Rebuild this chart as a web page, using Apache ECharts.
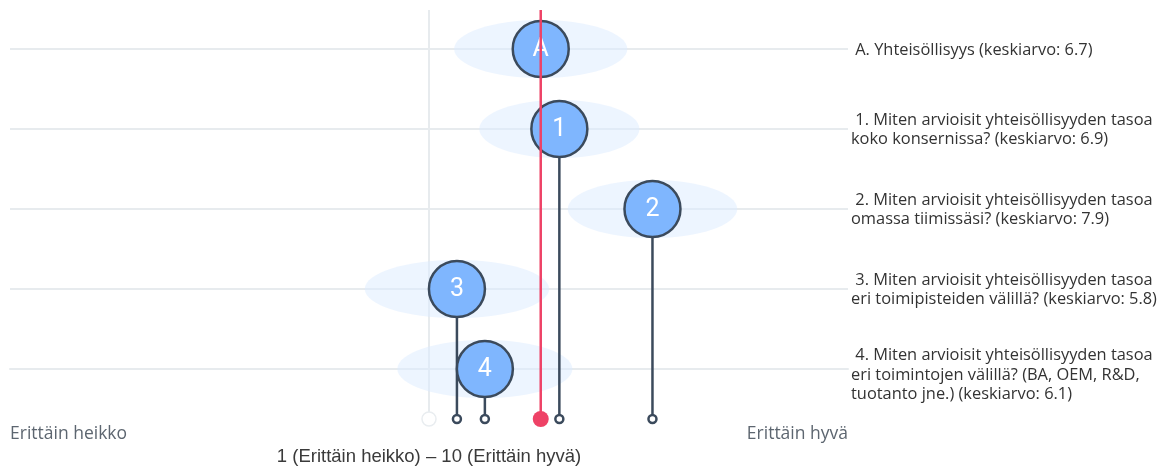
<!DOCTYPE html>
<html>
<head>
<meta charset="utf-8">
<script src="https://cdn.jsdelivr.net/npm/echarts@6/dist/echarts.min.js"></script>
<style>
  html, body { margin: 0; padding: 0; background: #ffffff; }
  #chart { width: 1170px; height: 467px; }
</style>
</head>
<body>
<div id="chart"></div>
<script>
// Survey items: marker, question text, mean score and spread of answers
const markers = ['A', '1', '2', '3', '4'];
const questions = [
  ' A. Yhteisöllisyys (keskiarvo: 6.7)',
  ' 1. Miten arvioisit yhteisöllisyyden tasoa\nkoko konsernissa? (keskiarvo: 6.9)',
  ' 2. Miten arvioisit yhteisöllisyyden tasoa\nomassa tiimissäsi? (keskiarvo: 7.9)',
  ' 3. Miten arvioisit yhteisöllisyyden tasoa\neri toimipisteiden välillä? (keskiarvo: 5.8)',
  ' 4. Miten arvioisit yhteisöllisyyden tasoa\neri toimintojen välillä? (BA, OEM, R&D,\ntuotanto jne.) (keskiarvo: 6.1)'
];
const means = [6.7, 6.9, 7.9, 5.8, 6.1];
const spreads = [0.93, 0.86, 0.91, 0.99, 0.94];

// Answer scale
const scaleMin = 1;
const scaleMax = 10;
const scaleMid = 5.5;
const scaleEnds = ['Erittäin heikko', 'Erittäin hyvä'];
const scaleTitle = '1 (Erittäin heikko) – 10 (Erittäin hyvä)';

const GRID_COLOR = '#e7ebee';
const DOT_FILL = '#7fb6fe';
const DARK = '#3b4a5c';
const RED = '#ee4266';
const R = 28;

// first row sits on top; rows are stacked downwards
const rowY = i => markers.length - 1 - i;
const rows = means.map((m, i) => [m, rowY(i), spreads[i], i]);

const chart = echarts.init(document.getElementById('chart'), null, { renderer: 'canvas' });

chart.setOption({
  animation: false,
  backgroundColor: '#ffffff',
  grid: { left: 10, right: 322, top: 10, bottom: 48, containLabel: false, outerBoundsMode: 'none' },
  xAxis: {
    type: 'value',
    min: scaleMin,
    max: scaleMax,
    name: scaleTitle,
    nameLocation: 'middle',
    nameGap: 26,
    nameTextStyle: { color: '#3a3a3a', fontSize: 18.5, fontFamily: 'Liberation Sans' },
    axisLine: { show: true, lineStyle: { color: GRID_COLOR, width: 2 } },
    axisTick: { show: false },
    splitLine: { show: false },
    axisLabel: {
      customValues: [scaleMin, scaleMax],
      alignMinLabel: 'left',
      alignMaxLabel: 'right',
      margin: 6,
      color: '#5d6670',
      fontSize: 17.5,
      fontFamily: 'Open Sans',
      formatter: v => (v === scaleMin ? scaleEnds[0] : scaleEnds[1])
    }
  },
  yAxis: {
    type: 'value',
    min: -0.625,
    max: 4.4875,
    show: false
  },
  series: [
    // midpoint guide of the scale
    {
      type: 'custom',
      z: 1,
      silent: true,
      data: [[scaleMid]],
      renderItem: (params, api) => {
        const cs = params.coordSys;
        const x = api.coord([api.value(0), 0])[0];
        const bottom = cs.y + cs.height;
        return {
          type: 'group',
          children: [
            { type: 'line', shape: { x1: x, y1: cs.y, x2: x, y2: bottom },
              style: { stroke: GRID_COLOR, lineWidth: 2 } },
            { type: 'circle', shape: { cx: x, cy: bottom, r: 7 },
              style: { fill: '#ffffff', stroke: '#e9edf0', lineWidth: 1.5 }, z2: 5 }
          ]
        };
      }
    },
    // row guide lines and spread halos
    {
      type: 'custom',
      z: 2,
      silent: true,
      data: rows,
      renderItem: (params, api) => {
        const cs = params.coordSys;
        const m = api.value(0), y = api.value(1), s = api.value(2);
        const c = api.coord([m, y]);
        const left = api.coord([m - s, y])[0];
        const right = api.coord([m + s, y])[0];
        return {
          type: 'group',
          children: [
            { type: 'line', shape: { x1: cs.x, y1: c[1], x2: cs.x + cs.width, y2: c[1] },
              style: { stroke: GRID_COLOR, lineWidth: 2 } },
            { type: 'ellipse', shape: { cx: (left + right) / 2, cy: c[1], rx: (right - left) / 2, ry: 29 },
              style: { fill: '#dcebff', opacity: 0.5 } }
          ]
        };
      }
    },
    // lollipops: stem to the axis, base marker, numbered dot
    {
      type: 'custom',
      z: 3,
      silent: true,
      data: rows,
      renderItem: (params, api) => {
        const cs = params.coordSys;
        const m = api.value(0), y = api.value(1), idx = api.value(3);
        const c = api.coord([m, y]);
        const bottom = cs.y + cs.height;
        const children = [];
        if (idx > 0) {
          children.push(
            { type: 'line', shape: { x1: c[0], y1: c[1], x2: c[0], y2: bottom },
              style: { stroke: DARK, lineWidth: 2.5 } },
            { type: 'circle', shape: { cx: c[0], cy: bottom, r: 4 },
              style: { fill: '#ffffff', stroke: DARK, lineWidth: 2.5 } }
          );
        }
        children.push(
          { type: 'circle', shape: { cx: c[0], cy: c[1], r: R },
            style: { fill: DOT_FILL, stroke: DARK, lineWidth: 2.5 } },
          { type: 'text', x: c[0], y: c[1] + 1,
            style: { text: markers[idx], fill: '#ffffff', fontSize: 25, fontFamily: 'Roboto',
                     align: 'center', verticalAlign: 'middle' } }
        );
        return { type: 'group', children };
      }
    },
    // question texts to the right of the plot
    {
      type: 'custom',
      z: 3,
      silent: true,
      data: rows,
      renderItem: (params, api) => {
        const cs = params.coordSys;
        const y = api.value(1), idx = api.value(3);
        const c = api.coord([scaleMin, y]);
        const lines = questions[idx].split('\n').length;
        return {
          type: 'text',
          x: cs.x + cs.width + 3,
          y: c[1] + (lines > 2 ? 6 : 1),
          style: { text: questions[idx], fill: '#333333', fontSize: 16.4, fontFamily: 'Open Sans',
                   lineHeight: 19.5, align: 'left', verticalAlign: 'middle' }
        };
      }
    },
    // overall mean line
    {
      type: 'custom',
      z: 5,
      silent: true,
      data: [[means[0]]],
      renderItem: (params, api) => {
        const cs = params.coordSys;
        const x = api.coord([api.value(0), 0])[0];
        const bottom = cs.y + cs.height;
        return {
          type: 'group',
          children: [
            { type: 'line', shape: { x1: x, y1: cs.y, x2: x, y2: bottom },
              style: { stroke: RED, lineWidth: 2.5 } },
            { type: 'circle', shape: { cx: x, cy: bottom, r: 8 },
              style: { fill: RED } }
          ]
        };
      }
    }
  ]
});
</script>
</body>
</html>
